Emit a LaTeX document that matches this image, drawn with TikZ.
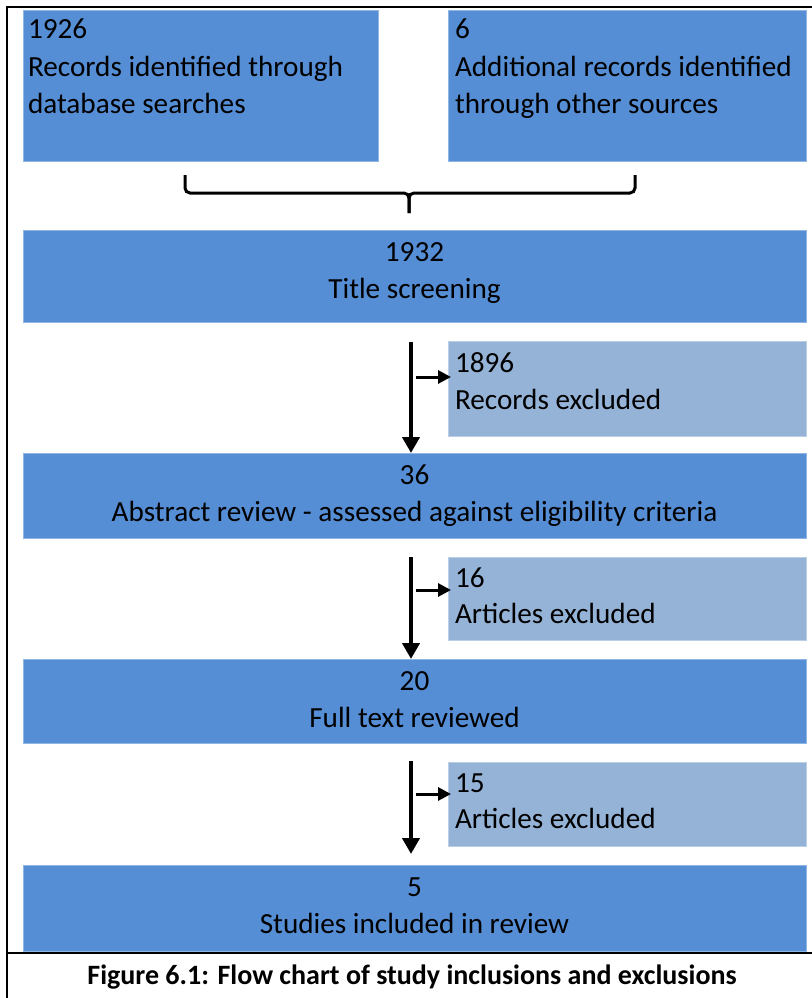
\documentclass[tikz,border=0pt]{standalone}
\usepackage{fontspec}
\setmainfont{Carlito}
\usetikzlibrary{arrows.meta}
\definecolor{stageblue}{HTML}{558ED5}
\definecolor{exclblue}{HTML}{95B3D7}
\begin{document}
\begin{tikzpicture}[x=1pt,y=-1pt,
  boxbase/.style={rectangle, inner sep=0pt, outer sep=0pt, anchor=north west, line width=0.8pt},
  stagebox/.style={boxbase, fill=stageblue, draw=white!35!stageblue},
  exclbox/.style={boxbase, fill=exclblue, draw=white!35!exclblue},
  txt/.style={inner sep=0pt, outer sep=0pt, font=\fontsize{29.2}{37}\selectfont},
  ctxt/.style={txt, anchor=base},
  ltxt/.style={txt, anchor=base west},
  captxt/.style={inner sep=0pt, anchor=base, font=\bfseries\fontsize{28}{34}\selectfont},
  frameline/.style={line width=2pt, black},
  bracket/.style={line width=3pt, black, rounded corners=5pt},
  mainarrow/.style={line width=4.8pt, -{Triangle[length=16pt,width=17pt]}},
  sidearrow/.style={line width=3pt, -{Triangle[length=13pt,width=13pt]}}
]
\useasboundingbox (0,0) rectangle (811,998);

% table frame and caption rule
\draw[frameline] (7,1000) -- (7,7) -- (812,7);
\draw[frameline] (7,953) -- (812,953);

% boxes
\node[stagebox, minimum width=355pt, minimum height=151pt] (b1) at (23,10) {};
\node[stagebox, minimum width=358pt, minimum height=151pt] (b2) at (448,10) {};
\node[stagebox, minimum width=783pt, minimum height=92pt] (b3) at (23,230) {};
\node[exclbox, minimum width=358pt, minimum height=95pt] (e1) at (448,341) {};
\node[stagebox, minimum width=783pt, minimum height=85pt] (b4) at (23,453) {};
\node[exclbox, minimum width=358pt, minimum height=83pt] (e2) at (448,557) {};
\node[stagebox, minimum width=783pt, minimum height=84pt] (b5) at (23,659) {};
\node[exclbox, minimum width=358pt, minimum height=84pt] (e3) at (448,762) {};
\node[stagebox, minimum width=783pt, minimum height=86pt] (b6) at (23,865) {};

% box texts
\node[ltxt] (b1a) at ([xshift=5pt,yshift=-29pt]b1.north west) {1926};
\node[ltxt] (b1b) at ([xshift=5pt,yshift=-66pt]b1.north west) {Records identified through};
\node[ltxt] (b1c) at ([xshift=5pt,yshift=-103pt]b1.north west) {database searches};
\node[ltxt] (b2a) at ([xshift=7pt,yshift=-29pt]b2.north west) {6};
\node[ltxt] (b2b) at ([xshift=7pt,yshift=-66pt]b2.north west) {Additional records identified};
\node[ltxt] (b2c) at ([xshift=7pt,yshift=-103pt]b2.north west) {through other sources};

\node[ctxt] (b3a) at ([yshift=-31pt]b3.north) {1932};
\node[ctxt] (b3b) at ([yshift=-68pt]b3.north) {Title screening};
\node[ltxt] (e1a) at ([xshift=7pt,yshift=-31pt]e1.north west) {1896};
\node[ltxt] (e1b) at ([xshift=7pt,yshift=-68pt]e1.north west) {Records excluded};
\node[ctxt] (b4a) at ([yshift=-31pt]b4.north) {36};
\node[ctxt] (b4b) at ([yshift=-68pt]b4.north) {Abstract review - assessed against eligibility criteria};
\node[ltxt] (e2a) at ([xshift=7pt,yshift=-30pt]e2.north west) {16};
\node[ltxt] (e2b) at ([xshift=7pt,yshift=-66pt]e2.north west) {Articles excluded};
\node[ctxt] (b5a) at ([yshift=-31pt]b5.north) {20};
\node[ctxt] (b5b) at ([yshift=-68pt]b5.north) {Full text reviewed};
\node[ltxt] (e3a) at ([xshift=7pt,yshift=-30pt]e3.north west) {15};
\node[ltxt] (e3b) at ([xshift=7pt,yshift=-66pt]e3.north west) {Articles excluded};
\node[ctxt] (b6a) at ([yshift=-31pt]b6.north) {5};
\node[ctxt] (b6b) at ([yshift=-68pt]b6.north) {Studies included in review};

% caption
\node[captxt] (cap) at (412,984) {Figure 6.1: Flow chart of study inclusions and exclusions};

% bracket joining the two sources
\coordinate (brL) at (185,175);
\coordinate (brR) at (635,175);
\coordinate (brM) at (409,193);
\coordinate (brS) at (409,213);
\draw[bracket] (brL) -- (brL |- brM) -- (brM) -- (brS);
\draw[bracket] (brR) -- (brR |- brM) -- (brM) -- (brS);

% flow arrows
\coordinate (a1) at (411,342);
\coordinate (a2) at (411,557);
\coordinate (a3) at (411,761);
\draw[mainarrow] (a1) -- (a1 |- b4.north);
\draw[mainarrow] (a2) -- (a2 |- b5.north);
\path (a3 |- b6.north) ++(0,-11) coordinate (a3end);
\draw[mainarrow] (a3) -- (a3end);

% side arrows to the exclusion boxes
\coordinate (s1) at (416,377);
\coordinate (s2) at (416,590);
\coordinate (s3) at (416,794);
\path (s1 -| e1.west) ++(3,0) coordinate (s1end);
\path (s2 -| e2.west) ++(3,0) coordinate (s2end);
\path (s3 -| e3.west) ++(3,0) coordinate (s3end);
\draw[sidearrow] (s1) -- (s1end);
\draw[sidearrow] (s2) -- (s2end);
\draw[sidearrow] (s3) -- (s3end);
\end{tikzpicture}
\end{document}
